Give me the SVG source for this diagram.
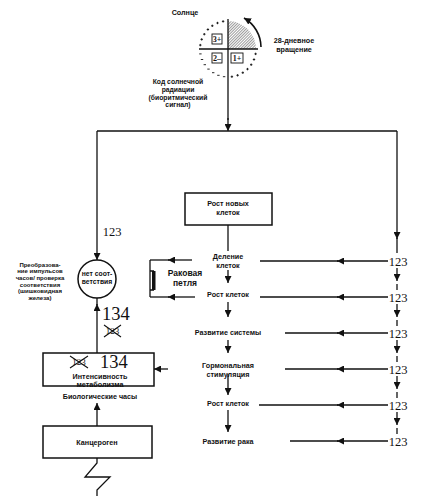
<svg xmlns="http://www.w3.org/2000/svg" width="425" height="500" viewBox="0 0 425 500">
<style>
.t{font-family:"Liberation Sans",Arial,sans-serif;font-size:7.2px;font-weight:bold;text-anchor:middle;fill:#111}
.s{font-size:6px}
.c{font-size:6.8px}
.b{font-size:8.5px}
.n{font-family:"Liberation Serif","Times New Roman",serif;font-size:12.5px;text-anchor:middle;fill:#111}
.big{font-family:"Liberation Serif","Times New Roman",serif;font-size:18.5px;fill:#111}
.x{font-family:"Liberation Serif","Times New Roman",serif;font-size:9px;text-anchor:middle;fill:#111}
.q{font-family:"Liberation Serif","Times New Roman",serif;font-size:8px;font-weight:bold;text-anchor:middle;fill:#111}
.box{fill:#fff;stroke:#111;stroke-width:1.5}
.ln{fill:none;stroke:#111;stroke-width:1.3}
.a{fill:none;stroke:#111;stroke-width:1.3;marker-end:url(#ah)}
.sm{fill:none;stroke:#111;stroke-width:0.9}
</style>
<defs>
<marker id="ah" markerUnits="userSpaceOnUse" markerWidth="8" markerHeight="7" refX="7" refY="3.5" orient="auto">
<path d="M0,0 L7,3.5 L0,7 z" fill="#111"/>
</marker>
<pattern id="hatch" patternUnits="userSpaceOnUse" width="2" height="2" patternTransform="rotate(45)">
<line x1="0" y1="0" x2="0" y2="2" stroke="#222" stroke-width="0.9"/>
</pattern>
</defs>
<rect width="425" height="500" fill="#fff"/>

<g id="sun">
<text class="t" x="185" y="15">Солнце</text>
<path d="M228,49 L228,21 A28,28 0 0 1 256,49 Z" fill="url(#hatch)"/>
<line class="ln" x1="199" y1="49" x2="258" y2="49"/>
<g class="sm">
<path d="M221.9,21.4h2.4M223.1,20.2v2.4 M216.3,23h2.4M217.5,21.8v2.4 M211.1,25.8h2.4M212.3,24.6v2.4 M206.7,29.5h2.4M207.9,28.3v2.4 M203.1,34.2h2.4M204.3,33v2.4 M200.5,39.4h2.4M201.7,38.2v2.4 M199.1,45.1h2.4M200.3,43.9v2.4"/>
<path d="M199.2,53.9h2.4 M200.8,59.5h2.4 M203.6,64.7h2.4 M207.3,69.1h2.4 M212,72.7h2.4 M217.2,75.3h2.4 M222.9,76.7h2.4"/>
<path d="M230.7,76.7h2.4M231.9,75.5v2.4 M236.4,75.3h2.4M237.6,74.1v2.4 M241.6,72.7h2.4M242.8,71.5v2.4 M246.3,69.1h2.4M247.5,67.9v2.4 M250,64.7h2.4M251.2,63.5v2.4 M252.8,59.5h2.4M254,58.3v2.4 M254.4,53.9h2.4M255.6,52.7v2.4"/>
</g>
<rect x="212" y="34" width="10" height="10" fill="#fff" stroke="#111" stroke-width="0.9"/>
<text class="q" x="217" y="42">3+</text>
<rect x="212" y="53" width="10" height="10" fill="#fff" stroke="#111" stroke-width="0.9"/>
<text class="q" x="217" y="61">2–</text>
<rect x="231" y="53" width="12" height="10" fill="#fff" stroke="#111" stroke-width="0.9"/>
<text class="q" x="237" y="61">1+</text>
<path class="a" d="M261,47 A34,34 0 0 0 244,18" style="stroke-width:1.6"/>
<text class="t" x="294" y="43">28-дневное</text>
<text class="t" x="294" y="52">вращение</text>
</g>

<g id="signal-label">
<text class="t c" x="178" y="84">Код солнечной</text>
<text class="t c" x="178" y="91.8">радиации</text>
<text class="t c" x="178" y="99.6">(биоритмический</text>
<text class="t c" x="178" y="107.4">сигнал)</text>
</g>

<g id="connectors">
<line class="ln" x1="228" y1="19" x2="228" y2="120"/>
<line class="a" x1="228" y1="118" x2="228" y2="131"/>
<polyline class="ln" points="97,131 397,131"/>
<line class="a" x1="97" y1="131" x2="97" y2="260"/>
<line class="a" x1="397" y1="131" x2="397" y2="239"/>
<line class="ln" x1="397" y1="238" x2="397" y2="253"/>
<line class="a" x1="397" y1="268" x2="397" y2="281"/>
<line class="ln" x1="397" y1="284" x2="397" y2="290"/>
<line class="a" x1="397" y1="304" x2="397" y2="317"/>
<line class="ln" x1="397" y1="320" x2="397" y2="326"/>
<line class="a" x1="397" y1="340" x2="397" y2="353"/>
<line class="ln" x1="397" y1="356" x2="397" y2="362"/>
<line class="a" x1="397" y1="376" x2="397" y2="389"/>
<line class="ln" x1="397" y1="392" x2="397" y2="398"/>
<line class="a" x1="397" y1="412" x2="397" y2="425"/>
<line class="ln" x1="397" y1="428" x2="397" y2="434"/>

<line class="a" x1="388" y1="261" x2="337" y2="261"/><line class="ln" x1="338" y1="261" x2="260" y2="261"/>
<line class="a" x1="388" y1="297" x2="337" y2="297"/><line class="ln" x1="338" y1="297" x2="260" y2="297"/>
<line class="a" x1="388" y1="333" x2="337" y2="333"/><line class="ln" x1="338" y1="333" x2="285" y2="333"/>
<line class="a" x1="388" y1="369" x2="337" y2="369"/><line class="ln" x1="338" y1="369" x2="285" y2="369"/>
<line class="a" x1="388" y1="405" x2="337" y2="405"/><line class="ln" x1="338" y1="405" x2="259" y2="405"/>
<line class="a" x1="388" y1="441" x2="337" y2="441"/><line class="ln" x1="338" y1="441" x2="290" y2="441"/>

<line class="ln" x1="228" y1="225" x2="228" y2="251"/>
<line class="a" x1="228" y1="270" x2="228" y2="283"/>
<line class="a" x1="228" y1="302" x2="228" y2="317"/>
<line class="a" x1="228" y1="340" x2="228" y2="353"/>
<line class="a" x1="228" y1="374" x2="228" y2="395"/>
<line class="a" x1="228" y1="410" x2="228" y2="432"/>

<line class="a" x1="192" y1="260" x2="168" y2="260"/><line class="ln" x1="169" y1="260" x2="150" y2="260"/>
<line class="a" x1="195" y1="297" x2="168" y2="297"/><line class="ln" x1="169" y1="297" x2="150" y2="297"/>
<line class="ln" x1="150" y1="260" x2="150" y2="297"/>

<line class="a" x1="97" y1="353" x2="97" y2="304"/>
<line class="ln" x1="97" y1="305" x2="97" y2="298"/>
<line class="a" x1="168" y1="369" x2="154" y2="369"/>
<line class="a" x1="97" y1="426" x2="97" y2="403"/>
<polyline class="ln" points="97,458 97,463 85,477 110,477 97,490 97,496"/>
</g>

<g id="labels-123">
<text class="n" x="112" y="236">123</text>
<text class="n" x="398" y="265.5">123</text>
<text class="n" x="398" y="301.5">123</text>
<text class="n" x="398" y="337.5">123</text>
<text class="n" x="398" y="373.5">123</text>
<text class="n" x="398" y="409.5">123</text>
<text class="n" x="398" y="445.5">123</text>
</g>

<g id="cancer-loop">
<rect x="152" y="271" width="3.5" height="19" fill="#111"/>
<path class="ln" d="M150,271h4 M150,290h4"/>
<text class="t b" x="185" y="276">Раковая</text>
<text class="t b" x="185" y="286">петля</text>
</g>

<g id="new-cells">
<rect class="box" x="185" y="193" width="87" height="32"/>
<text class="t" x="228" y="206">Рост новых</text>
<text class="t" x="228" y="214.5">клеток</text>
</g>
<g id="division"><text class="t" x="228" y="259">Деление</text><text class="t" x="228" y="267.5">клеток</text></g>
<g id="growth1"><text class="t" x="228" y="297">Рост клеток</text></g>
<g id="system"><text class="t" x="228" y="335">Развитие системы</text></g>
<g id="hormone"><text class="t" x="228" y="368">Гормональная</text><text class="t" x="228" y="376.5">стимуляция</text></g>
<g id="growth2"><text class="t" x="228" y="406">Рост клеток</text></g>
<g id="cancer"><text class="t" x="228" y="444">Развитие рака</text></g>

<g id="pineal">
<circle cx="97" cy="279" r="19" fill="#fff" stroke="#111" stroke-width="1.5"/>
<text class="t c" x="97" y="276">нет соот-</text>
<text class="t c" x="97" y="284">ветствия</text>
<text class="t s" x="40" y="266.5">Преобразова-</text>
<text class="t s" x="40" y="273.2">ние импульсов</text>
<text class="t s" x="40" y="279.9">часов/ проверка</text>
<text class="t s" x="40" y="286.6">соответствия</text>
<text class="t s" x="40" y="293.3">(шишковидная</text>
<text class="t s" x="40" y="300">железа)</text>
</g>

<g id="labels-134">
<text class="big" x="102" y="320">134</text>
<text class="x" x="112.5" y="334">123</text>
<path class="sm" d="M104,325 L121,337 M104,337 L121,325" style="stroke-width:1.1"/>
</g>

<g id="metabolism">
<rect class="box" x="43" y="353" width="111" height="33"/>
<text class="x" x="79" y="365">123</text>
<path class="sm" d="M70,356 L88,368 M70,368 L88,356" style="stroke-width:1.1"/>
<text class="big" x="100" y="367.5">134</text>
<text class="t" x="100" y="379">Интенсивность</text>
<text class="t" x="100" y="387">метаболизма</text>
<text class="t" x="100" y="399">Биологические часы</text>
</g>

<g id="carcinogen">
<rect class="box" x="43" y="426" width="109" height="32"/>
<text class="t" x="97" y="444.5">Канцероген</text>
</g>
</svg>
